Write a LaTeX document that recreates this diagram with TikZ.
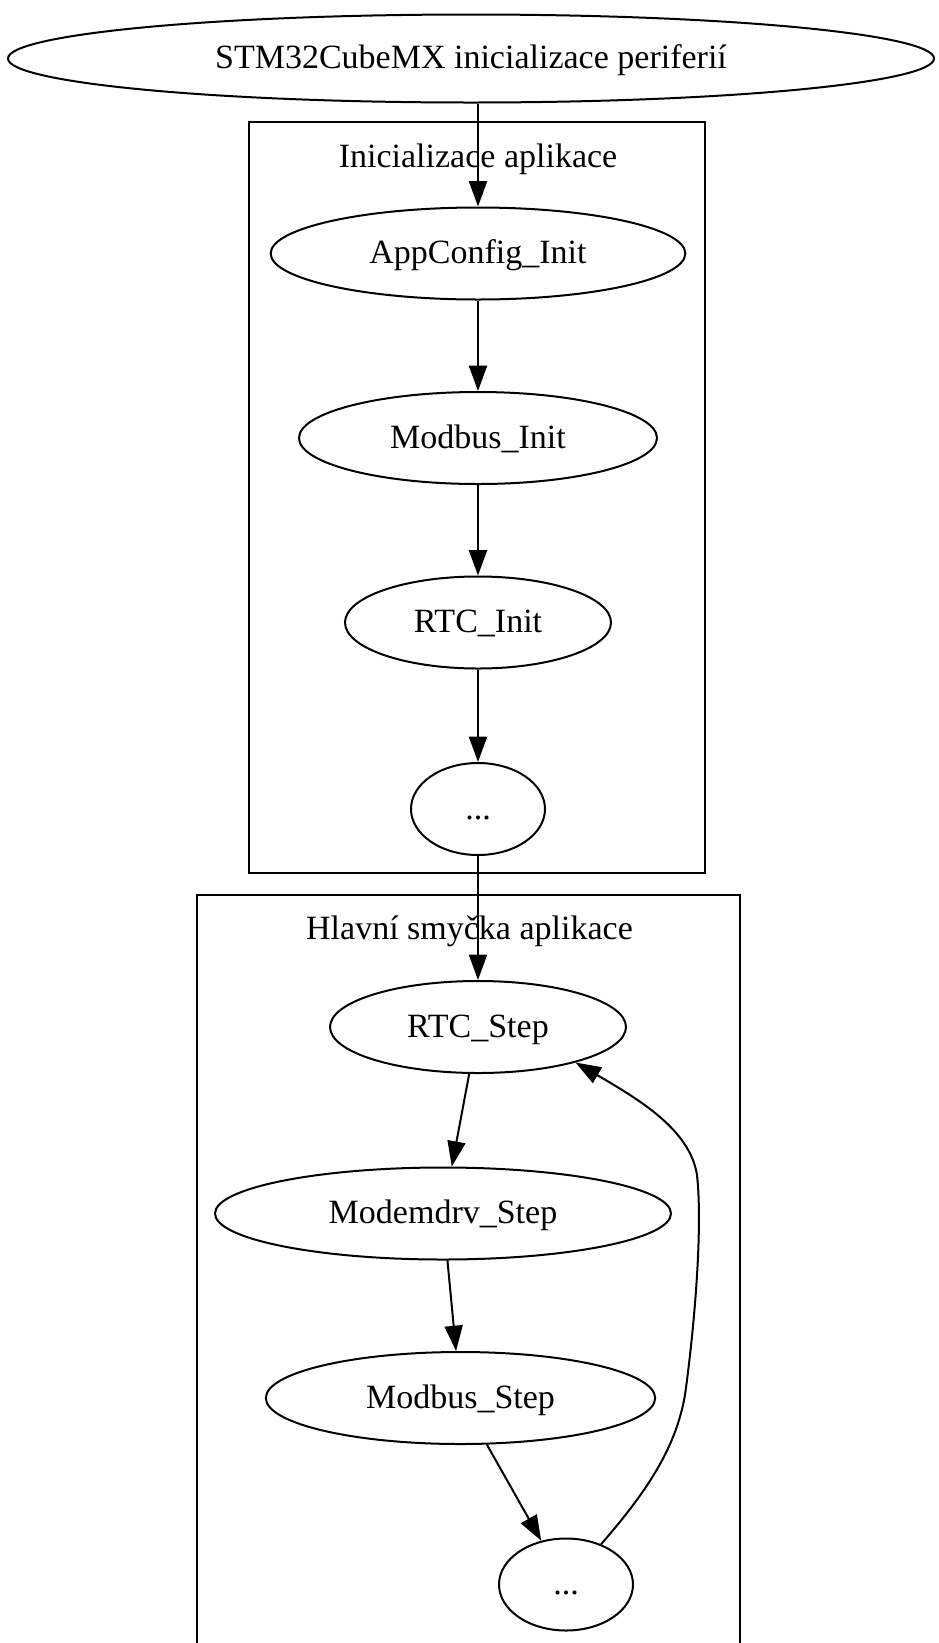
\documentclass[tikz,border=0pt]{standalone}
\usepackage{fontspec}
\setmainfont{Liberation Serif}
\usepackage{tikz}
\usetikzlibrary{arrows.meta,positioning,shapes.geometric}

\begin{document}
\begin{tikzpicture}[
  x=0.75pt, y=-0.75pt,
  font=\fontsize{25.5}{30}\selectfont,
  fn/.style={draw, ellipse, inner sep=0pt, minimum height=69pt, text height=19pt, text depth=4pt, line width=1.5pt},
  cluster/.style={draw, line width=1.5pt},
  >={Triangle[length=19pt,width=13.5pt]},
  arrline/.style={->, line width=1.5pt},
]
\useasboundingbox (0,0) rectangle (939,1643);
% clusters
\draw[cluster] (249,122) rectangle (705,873);
\node[text height=19pt, text depth=4pt] (initlbl) at (478,157) {Inicializace aplikace};
\draw[cluster] (197,1660) |- (740,895) -- (740,1660);
\node[text height=19pt, text depth=4pt] (looplbl) at (469.5,929.5) {Hlavní smyčka aplikace};
% nodes
\node[fn, minimum width=694.5pt, minimum height=66pt] (cubemx) at (471,58.5) {STM32CubeMX inicializace periferií};
\node[fn, minimum width=311pt] (appinit) at (478,253.5) {AppConfig\_Init};
\node[fn, minimum width=268.5pt] (mbinit) at (478,438) {Modbus\_Init};
\node[fn, minimum width=199.5pt] (rtcinit) at (478,622.5) {RTC\_Init};
\node[fn, minimum width=100.5pt] (initdots) at (478,809) {...};
\node[fn, minimum width=222pt] (rtcstep) at (478,1027) {RTC\_Step};
\node[fn, minimum width=342pt] (modemstep) at (443,1213.5) {Modemdrv\_Step};
\node[fn, minimum width=292pt] (mbstep) at (460.5,1398) {Modbus\_Step};
\node[fn, minimum width=100.5pt] (loopdots) at (566,1584.5) {...};
% edges
\draw[arrline] (appinit.north |- cubemx.south) -- (appinit);
\draw[arrline] (appinit) -- (mbinit);
\draw[arrline] (mbinit) -- (rtcinit);
\draw[arrline] (rtcinit) -- (initdots);
\draw[arrline] (initdots) -- (rtcstep);
\draw[arrline] (rtcstep) -- (modemstep);
\draw[arrline] (modemstep) -- (mbstep);
\draw[arrline] (mbstep) -- (loopdots);
\draw[arrline] (loopdots) .. controls (650,1488) and (676,1446) .. (685,1395)
  .. controls (694,1330) and (703,1230) .. (697,1175)
  .. controls (690,1130) and (640,1100) .. (rtcstep.-20);
\end{tikzpicture}
\end{document}
